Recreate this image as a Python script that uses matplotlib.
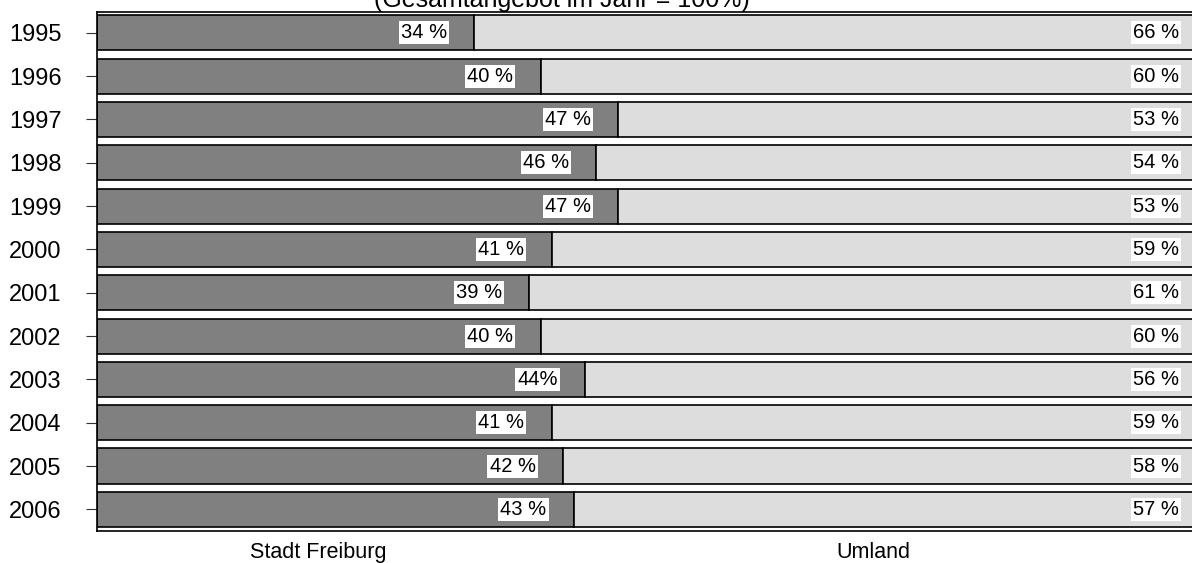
import numpy as np
import matplotlib.pyplot as plt

plt.rcParams['font.family'] = ['Liberation Sans', 'DejaVu Sans']

years = ['1995', '1996', '1997', '1998', '1999', '2000',
         '2001', '2002', '2003', '2004', '2005', '2006']
stadt = [34, 40, 47, 45, 47, 41, 39, 40, 44, 41, 42, 43]
umland = [66, 60, 53, 55, 53, 59, 61, 60, 56, 59, 58, 57]
stadt_txt = ['34 %', '40 %', '47 %', '46 %', '47 %', '41 %',
             '39 %', '40 %', '44%', '41 %', '42 %', '43 %']
umland_txt = ['66 %', '60 %', '53 %', '54 %', '53 %', '59 %',
              '61 %', '60 %', '56 %', '59 %', '58 %', '57 %']
groups = ['Stadt Freiburg', 'Umland']
title = '(Gesamtangebot im Jahr = 100%)'

fig = plt.figure(figsize=(11.92, 5.63), dpi=100)
ax = fig.add_axes([96.5 / 1192, 32 / 563, 1110 / 1192, 519 / 563])

y = np.arange(len(years))
ax.barh(y, stadt, height=0.81, color='#808080', edgecolor='black', linewidth=1.2)
ax.barh(y, umland, left=stadt, height=0.81, color='#dddddd', edgecolor='black', linewidth=1.2)

box = dict(facecolor='white', edgecolor='none', pad=1.5)
for i in range(len(years)):
    ax.text(stadt[i] - 2.45, y[i], stadt_txt[i], ha='right', va='center',
            fontsize=14.5, bbox=box)
    ax.text(stadt[i] + umland[i] - 2.45, y[i], umland_txt[i], ha='right', va='center',
            fontsize=14.5, bbox=box)

ax.set_xlim(0, 100)
ax.set_ylim(11.5, -0.48)
ax.set_yticks(y)
ax.set_yticklabels(years, fontsize=17)
ax.tick_params(axis='y', length=8, width=0.8, color='#333333', pad=17)
ax.set_xticks([20, 70])
ax.set_xticklabels(groups, fontsize=15.5)
ax.tick_params(axis='x', length=0, pad=8)
for s in ax.spines.values():
    s.set_linewidth(1.2)

fig.text(562 / 1192, 1 - 6.5 / 563, title, ha='center', va='baseline', fontsize=18)

fig.savefig('out.png', dpi=100)
